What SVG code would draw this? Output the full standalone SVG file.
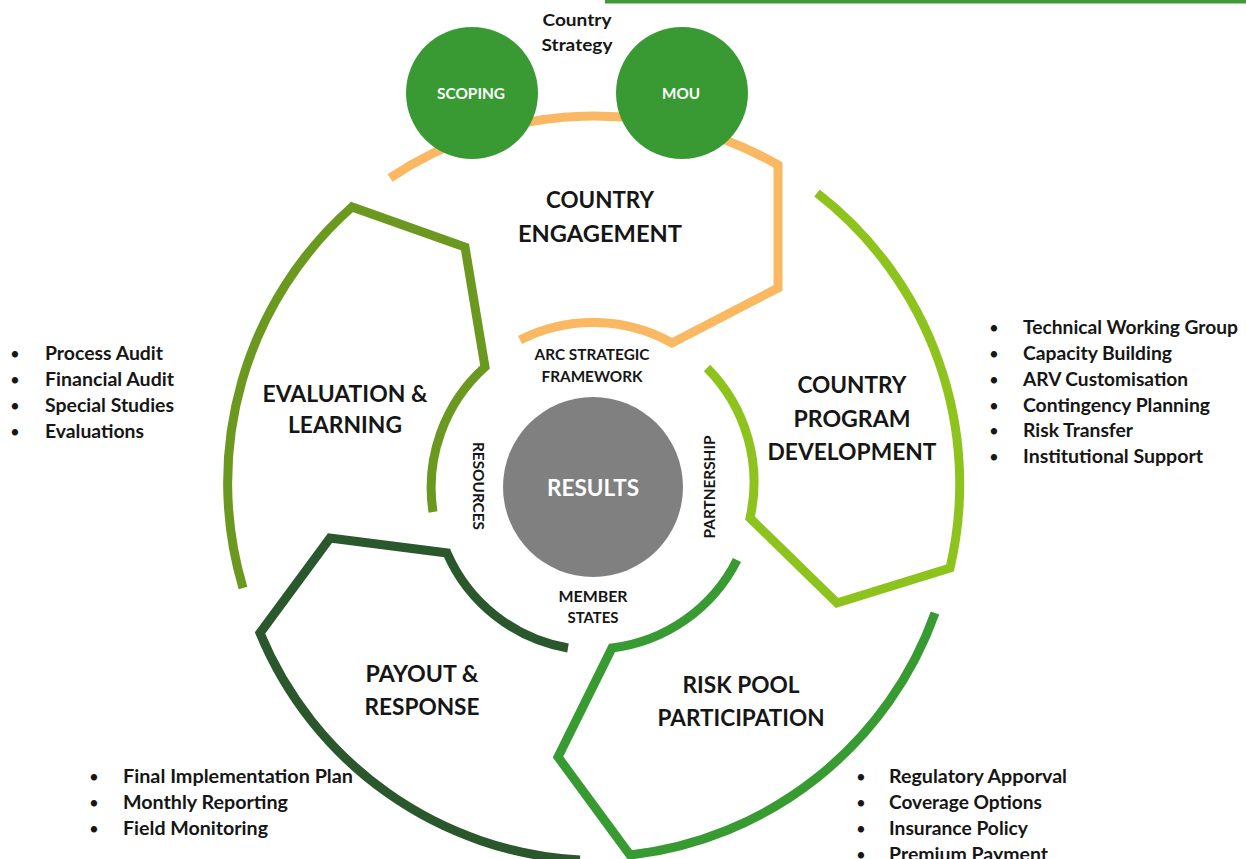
<svg xmlns="http://www.w3.org/2000/svg" width="1246" height="859" viewBox="0 0 1246 859">
  <style>
    text { font-family: Lato, "Open Sans", "Liberation Sans", sans-serif; font-weight: bold; fill: #161616; }
    .ring { fill: none; stroke-width: 9; stroke-linejoin: miter; stroke-linecap: butt; }
    .phase { font-size: 22px; text-anchor: middle; }
    .inner { font-size: 15px; text-anchor: middle; }
    .item { font-size: 18px; }
    .dot { font-size: 17px; font-weight: normal; }
    .stage { fill: #399A34; }
    .stage-label { font-size: 15px; text-anchor: middle; fill: #ffffff; }
  </style>

  <!-- top rule -->
  <rect x="605" y="0" width="641" height="3.5" fill="#3F9B38"/>

  <!-- cycle phases: outer arc, stepped edge, inner arc, label -->
  <g id="connectors">
    <g id="country-engagement">
      <path class="ring" stroke="#FBB862" d="M390,178 A368,368 0 0 1 778,165 L778,288 L672,343 A162,162 0 0 0 520,340"/>
      <text class="phase" x="600" y="208" textLength="108" lengthAdjust="spacingAndGlyphs">COUNTRY</text>
      <text class="phase" x="600" y="242" textLength="164" lengthAdjust="spacingAndGlyphs">ENGAGEMENT</text>
    </g>
    <g id="country-program-development">
      <path class="ring" stroke="#8EC31E" d="M817,193 A368,368 0 0 1 950,568 L837,603 L750,518 A162,162 0 0 0 707,368"/>
      <text class="phase" x="852" y="393" textLength="109" lengthAdjust="spacingAndGlyphs">COUNTRY</text>
      <text class="phase" x="852" y="427" textLength="117" lengthAdjust="spacingAndGlyphs">PROGRAM</text>
      <text class="phase" x="852" y="460" textLength="169" lengthAdjust="spacingAndGlyphs">DEVELOPMENT</text>
    </g>
    <g id="risk-pool-participation">
      <path class="ring" stroke="#389B32" d="M935,613 A368,368 0 0 1 630,855 L558,757 L612,648 A162,162 0 0 0 737,560"/>
      <text class="phase" x="741" y="693" textLength="117" lengthAdjust="spacingAndGlyphs">RISK POOL</text>
      <text class="phase" x="741" y="726" textLength="167" lengthAdjust="spacingAndGlyphs">PARTICIPATION</text>
    </g>
    <g id="payout-response">
      <path class="ring" stroke="#2A582C" d="M580,860 A368,368 0 0 1 260,633 L330,538 L447,553 A162,162 0 0 0 568,648"/>
      <text class="phase" x="422" y="682" textLength="113" lengthAdjust="spacingAndGlyphs">PAYOUT &amp;</text>
      <text class="phase" x="422" y="715" textLength="115" lengthAdjust="spacingAndGlyphs">RESPONSE</text>
    </g>
    <g id="evaluation-learning">
      <path class="ring" stroke="#6B991F" d="M243,588 A368,368 0 0 1 352,207 L465,247 L485,367 A162,162 0 0 0 433,512"/>
      <text class="phase" x="345" y="402" textLength="165" lengthAdjust="spacingAndGlyphs">EVALUATION &amp;</text>
      <text class="phase" x="345" y="433" textLength="114" lengthAdjust="spacingAndGlyphs">LEARNING</text>
    </g>
  </g>

  <!-- engagement stages sitting on the top arc -->
  <g id="scoping">
    <circle class="stage" cx="472" cy="93" r="66"/>
    <text class="stage-label" x="471" y="99" textLength="68" lengthAdjust="spacingAndGlyphs">SCOPING</text>
  </g>
  <g id="mou">
    <circle class="stage" cx="682" cy="93" r="66"/>
    <text class="stage-label" x="681" y="99" textLength="38" lengthAdjust="spacingAndGlyphs">MOU</text>
  </g>
  <g id="country-strategy">
    <text x="577" y="26" font-size="17" text-anchor="middle" textLength="69" lengthAdjust="spacingAndGlyphs">Country</text>
    <text x="577" y="51" font-size="17" text-anchor="middle" textLength="71" lengthAdjust="spacingAndGlyphs">Strategy</text>
  </g>

  <!-- hub -->
  <g id="results">
    <circle cx="593" cy="487" r="90" fill="#808080"/>
    <text x="593" y="496" font-size="23" text-anchor="middle" fill="#ffffff" style="fill:#ffffff" textLength="92" lengthAdjust="spacingAndGlyphs">RESULTS</text>
  </g>
  <g id="pillars">
    <text class="inner" x="592" y="360" textLength="115" lengthAdjust="spacingAndGlyphs">ARC STRATEGIC</text>
    <text class="inner" x="592" y="382" textLength="101" lengthAdjust="spacingAndGlyphs">FRAMEWORK</text>
    <text class="inner" x="593" y="602" textLength="69" lengthAdjust="spacingAndGlyphs">MEMBER</text>
    <text class="inner" x="593" y="623" textLength="51" lengthAdjust="spacingAndGlyphs">STATES</text>
    <text class="inner" transform="translate(473,486) rotate(90)" textLength="88" lengthAdjust="spacingAndGlyphs">RESOURCES</text>
    <text class="inner" transform="translate(715,487) rotate(-90)" textLength="103" lengthAdjust="spacingAndGlyphs">PARTNERSHIP</text>
  </g>

  <!-- activity lists -->
  <g id="evaluation-items">
    <text class="dot" x="10" y="360">•</text>
    <text class="dot" x="10" y="386">•</text>
    <text class="dot" x="10" y="412">•</text>
    <text class="dot" x="10" y="438">•</text>
    <text class="item" x="45" y="360" textLength="118" lengthAdjust="spacingAndGlyphs">Process Audit</text>
    <text class="item" x="45" y="386" textLength="129" lengthAdjust="spacingAndGlyphs">Financial Audit</text>
    <text class="item" x="45" y="412" textLength="129" lengthAdjust="spacingAndGlyphs">Special Studies</text>
    <text class="item" x="45" y="438" textLength="99" lengthAdjust="spacingAndGlyphs">Evaluations</text>
  </g>
  <g id="program-items">
    <text class="dot" x="989" y="334">•</text>
    <text class="dot" x="989" y="360">•</text>
    <text class="dot" x="989" y="386">•</text>
    <text class="dot" x="989" y="412">•</text>
    <text class="dot" x="989" y="437">•</text>
    <text class="dot" x="989" y="463">•</text>
    <text class="item" x="1023" y="334" textLength="215" lengthAdjust="spacingAndGlyphs">Technical Working Group</text>
    <text class="item" x="1023" y="360" textLength="149" lengthAdjust="spacingAndGlyphs">Capacity Building</text>
    <text class="item" x="1023" y="386" textLength="165" lengthAdjust="spacingAndGlyphs">ARV Customisation</text>
    <text class="item" x="1023" y="412" textLength="187" lengthAdjust="spacingAndGlyphs">Contingency Planning</text>
    <text class="item" x="1023" y="437" textLength="110" lengthAdjust="spacingAndGlyphs">Risk Transfer</text>
    <text class="item" x="1023" y="463" textLength="180" lengthAdjust="spacingAndGlyphs">Institutional Support</text>
  </g>
  <g id="payout-items">
    <text class="dot" x="89" y="783">•</text>
    <text class="dot" x="89" y="809">•</text>
    <text class="dot" x="89" y="835">•</text>
    <text class="item" x="123" y="783" textLength="230" lengthAdjust="spacingAndGlyphs">Final Implementation Plan</text>
    <text class="item" x="123" y="809" textLength="165" lengthAdjust="spacingAndGlyphs">Monthly Reporting</text>
    <text class="item" x="123" y="835" textLength="145" lengthAdjust="spacingAndGlyphs">Field Monitoring</text>
  </g>
  <g id="risk-pool-items">
    <text class="dot" x="856" y="783">•</text>
    <text class="dot" x="856" y="809">•</text>
    <text class="dot" x="856" y="835">•</text>
    <text class="dot" x="856" y="861">•</text>
    <text class="item" x="889" y="783" textLength="178" lengthAdjust="spacingAndGlyphs">Regulatory Apporval</text>
    <text class="item" x="889" y="809" textLength="153" lengthAdjust="spacingAndGlyphs">Coverage Options</text>
    <text class="item" x="889" y="835" textLength="139" lengthAdjust="spacingAndGlyphs">Insurance Policy</text>
    <text class="item" x="889" y="861" textLength="159" lengthAdjust="spacingAndGlyphs">Premium Payment</text>
  </g>
</svg>
